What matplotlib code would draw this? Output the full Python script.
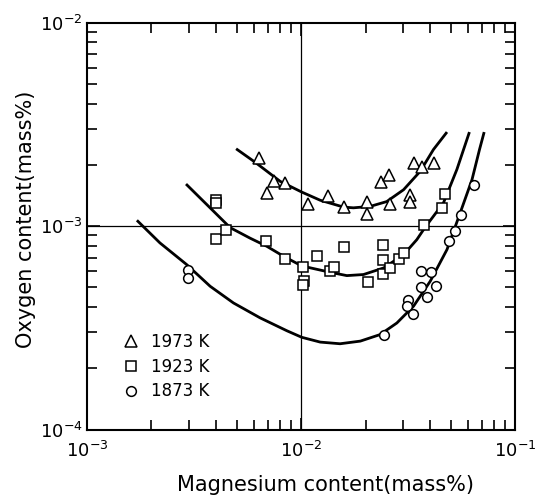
import matplotlib
matplotlib.use("Agg")
import matplotlib.pyplot as plt
from matplotlib.ticker import LogLocator, NullFormatter

plt.rcParams['font.family'] = ['DejaVu Sans']
plt.rcParams['mathtext.default'] = 'regular'

# ---------------- data (mass%) ----------------
# 1973 K (triangles)
mg_1973 = [0.00639, 0.00750, 0.00842, 0.00696, 0.0108, 0.01328, 0.0158, 0.0204, 0.0204,
           0.0236, 0.0256, 0.0259, 0.0323, 0.0323, 0.0337, 0.0367, 0.0418]
o_1973 = [0.00216, 0.00166, 0.00163, 0.00146, 0.00128, 0.00141, 0.00124, 0.00132, 0.00115,
          0.00165, 0.00179, 0.00129, 0.00143, 0.00131, 0.00205, 0.00195, 0.00205]

# 1923 K (squares)
mg_1923 = [0.00399, 0.00399, 0.00399, 0.00446, 0.00686, 0.00842, 0.0102, 0.0103, 0.0102,
           0.01184, 0.01366, 0.01426, 0.0158, 0.0206, 0.0241, 0.0241, 0.0241, 0.0261,
           0.0285, 0.0301, 0.0373, 0.0454, 0.0471]
o_1923 = [0.00135, 0.00130, 0.000868, 0.000961, 0.000842, 0.000692, 0.000628, 0.000535, 0.000516,
          0.000716, 0.000604, 0.000628, 0.000787, 0.000532, 0.000811, 0.000685, 0.000582, 0.000623,
          0.000690, 0.000739, 0.00101, 0.00123, 0.00144]

# 1873 K (circles)
mg_1873 = [0.00297, 0.00297, 0.0243, 0.0317, 0.0312, 0.0333, 0.0364, 0.0404, 0.0362,
           0.0389, 0.0426, 0.0493, 0.0525, 0.0559, 0.0643]
o_1873 = [0.000611, 0.000556, 0.000290, 0.000435, 0.000407, 0.000370, 0.000600, 0.000595, 0.000500,
          0.000447, 0.000510, 0.000842, 0.000950, 0.00113, 0.00160]

# Fitted curves
curve_mg_1973 = [0.00497, 0.00610, 0.00798, 0.01007, 0.01228, 0.0158, 0.01755, 0.0210,
                 0.0251, 0.0301, 0.0360, 0.0415, 0.0480]
curve_o_1973 = [0.00240, 0.00206, 0.00166, 0.00147, 0.00134, 0.00124, 0.00123, 0.00125,
                0.00132, 0.00151, 0.00186, 0.00238, 0.00290]

curve_mg_1923 = [0.00290, 0.00466, 0.00577, 0.00691, 0.00827, 0.01007, 0.01366, 0.01635,
                 0.01955, 0.0243, 0.0301, 0.0347, 0.0380, 0.0462, 0.0534, 0.0611]
curve_o_1923 = [0.00161, 0.000983, 0.000873, 0.000796, 0.000711, 0.000637, 0.000593, 0.000571,
                0.000578, 0.000623, 0.000724, 0.000858, 0.000989, 0.00130, 0.00190, 0.00290]

curve_mg_1873 = [0.00171, 0.00219, 0.00292, 0.00376, 0.00483, 0.00643, 0.00857, 0.01007,
                 0.01228, 0.0152, 0.0189, 0.0234, 0.0280, 0.0335, 0.0401, 0.0480, 0.0553,
                 0.0628, 0.0681, 0.0716]
curve_o_1873 = [0.001068, 0.000827, 0.000647, 0.000506, 0.000419, 0.000354, 0.000306, 0.000284,
                0.000269, 0.000264, 0.000272, 0.000293, 0.000334, 0.000404, 0.000536, 0.000767,
                0.00116, 0.00169, 0.00238, 0.00290]

labels = ['1973 K', '1923 K', '1873 K']

# ---------------- figure ----------------
fig = plt.figure(figsize=(5.49, 4.97), dpi=100)
ax = fig.add_axes([0.1585, 0.1358, 0.780, 0.8185])
ax.set_xscale('log')
ax.set_yscale('log')
ax.set_xlim(1e-3, 1e-1)
ax.set_ylim(1e-4, 1e-2)

for sp in ax.spines.values():
    sp.set_linewidth(1.5)

# reference lines
ax.axvline(1e-2, color='k', lw=0.9, zorder=1)
ax.axhline(1e-3, color='k', lw=0.9, zorder=1)

# curves
for cx, cy in [(curve_mg_1973, curve_o_1973), (curve_mg_1923, curve_o_1923),
               (curve_mg_1873, curve_o_1873)]:
    ax.plot(cx, cy, color='k', lw=2.0, solid_capstyle='butt', zorder=2)

mk = dict(linestyle='none', mfc='white', mec='k', mew=1.1, zorder=3)
h1, = ax.plot(mg_1973, o_1973, marker='^', ms=8, label=labels[0], **mk)
h2, = ax.plot(mg_1923, o_1923, marker='s', ms=7, label=labels[1], **mk)
h3, = ax.plot(mg_1873, o_1873, marker='o', ms=7, label=labels[2], **mk)

ax.legend(handles=[h1, h2, h3], loc='upper left', bbox_to_anchor=(0.0876, 0.237),
          frameon=False, fontsize=12, handlelength=0.8, handletextpad=0.8,
          labelspacing=0.4, borderpad=0, borderaxespad=0)

# ticks
ax.xaxis.set_minor_locator(LogLocator(base=10, subs=range(2, 10), numticks=20))
ax.yaxis.set_minor_locator(LogLocator(base=10, subs=range(2, 10), numticks=20))
ax.xaxis.set_minor_formatter(NullFormatter())
ax.yaxis.set_minor_formatter(NullFormatter())
ax.tick_params(which='both', direction='in', top=True, right=True, color='k')
ax.tick_params(which='major', length=9, width=1.2, labelsize=13)
ax.tick_params(which='minor', length=7, width=1.2)
ax.tick_params(axis='x', which='major', pad=8)
ax.tick_params(axis='y', which='major', pad=3)

ax.set_xlabel('Magnesium content(mass%)', fontsize=15, va='center')
ax.xaxis.set_label_coords(0.557, -0.137)
ax.set_ylabel('Oxygen content(mass%)', fontsize=15, va='center')
ax.yaxis.set_label_coords(-0.1425, 0.517)

fig.savefig('out.png', dpi=100)
